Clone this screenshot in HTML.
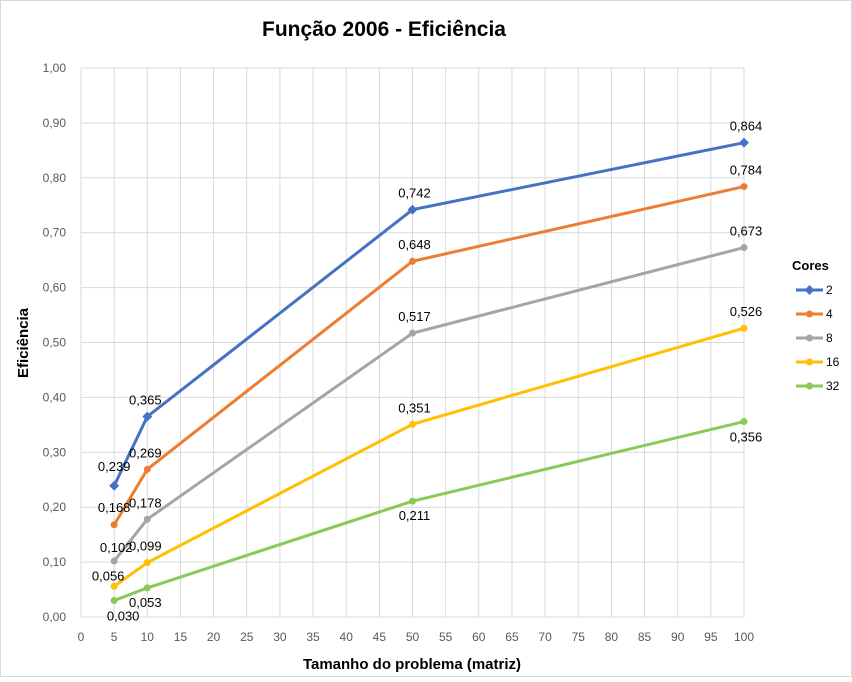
<!DOCTYPE html>
<html><head><meta charset="utf-8"><style>
body{margin:0;background:#fff;font-family:"Liberation Sans",sans-serif;}
svg text{font-family:"Liberation Sans",sans-serif;}
</style></head><body>
<svg id="c" width="852" height="677" xmlns="http://www.w3.org/2000/svg">
<rect x="0.5" y="0.5" width="851" height="676" fill="#fff" stroke="#d9d9d9"/>
<text x="384" y="36" text-anchor="middle" font-size="21" font-weight="bold" fill="#000">Função 2006 - Eficiência</text>
<g id="grid"></g><g id="axes"></g><g id="series"></g><g id="legend"></g>
<text x="412" y="669" text-anchor="middle" font-size="15" font-weight="bold">Tamanho do problema (matriz)</text>
<text transform="translate(28,343) rotate(-90)" text-anchor="middle" font-size="15" font-weight="bold">Eficiência</text>
</svg>
<script>
const xValues=[5,10,50,100];
const seriesNames=["2","4","8","16","32"];
const s2=[0.239,0.365,0.742,0.864];
const s4=[0.168,0.269,0.648,0.784];
const s8=[0.102,0.178,0.517,0.673];
const s16=[0.056,0.099,0.351,0.526];
const s32=[0.030,0.053,0.211,0.356];
const colors=["#4472C4","#ED7D31","#A5A5A5","#FFC000","#8BC956"];
const NS="http://www.w3.org/2000/svg";
const X=v=>81+v*6.63, Y=v=>617-v*549;
function mk(t,a,p){const e=document.createElementNS(NS,t);for(const k in a)e.setAttribute(k,a[k]);p.appendChild(e);return e;}
const grid=document.getElementById('grid'),axes=document.getElementById('axes');
for(let i=0;i<=20;i++){const x=X(i*5);
 const l=mk('line',{x1:x,x2:x,y1:Y(1),y2:Y(0),stroke:'#d9d9d9'},grid);
 
 const t=mk('text',{x:x,y:641,'text-anchor':'middle','font-size':12,fill:'#595959'},axes);t.textContent=String(i*5);
 }
for(let i=0;i<=10;i++){const y=Y(i/10);
 const l=mk('line',{x1:X(0),x2:X(100),y1:y,y2:y,stroke:'#d9d9d9'},grid);
 
 const t=mk('text',{x:66,y:y+4,'text-anchor':'end','font-size':12,fill:'#595959'},axes);t.textContent=(i/10).toFixed(2).replace('.',',');
 }
const all=[s2,s4,s8,s16,s32];
const offs=[[[0,-20],[-2,-17],[2,-17],[2,-17]],[[0,-18],[-2,-17],[2,-17],[2,-17]],[[2,-14],[-2,-17],[2,-17],[2,-17]],[[-6,-11],[-2,-17],[2,-17],[2,-17]],[[9,15],[-2,14],[2,14],[2,15]]];
const ser=document.getElementById('series');
all.forEach((s,k)=>{
 const g=mk('g',{},ser);
 const p=mk('polyline',{points:s.map((v,i)=>X(xValues[i])+','+Y(v)).join(' '),fill:'none',stroke:colors[k],'stroke-width':3},g);
 
 s.forEach((v,i)=>{const cx=X(xValues[i]),cy=Y(v);
  const m=k==0?mk('rect',{x:cx-3.5,y:cy-3.5,width:7,height:7,fill:colors[k],transform:`rotate(45 ${cx} ${cy})`},g):mk('circle',{cx:cx,cy:cy,r:3.5,fill:colors[k]},g);
  
  const t=mk('text',{x:cx+offs[k][i][0],y:cy+offs[k][i][1]+5,'text-anchor':'middle','font-size':13,fill:'#000'},g);
  t.textContent=v.toFixed(3).replace('.',',');
  });
});
const lg=document.getElementById('legend');
const lt=mk('text',{x:792,y:270,'font-size':13,'font-weight':'bold'},lg);lt.textContent='Cores';

seriesNames.forEach((n,k)=>{const y=290+k*24;
 const g=mk('g',{},lg);
 mk('line',{x1:796,x2:823,y1:y,y2:y,stroke:colors[k],'stroke-width':3},g);
 if(k==0)mk('rect',{x:806,y:y-3.5,width:7,height:7,fill:colors[k],transform:`rotate(45 809.5 ${y})`},g);else mk('circle',{cx:809.5,cy:y,r:3.5,fill:colors[k]},g);
 const t=mk('text',{x:826,y:y+4,'font-size':12},g);t.textContent=n;});
</script>
</body></html>
